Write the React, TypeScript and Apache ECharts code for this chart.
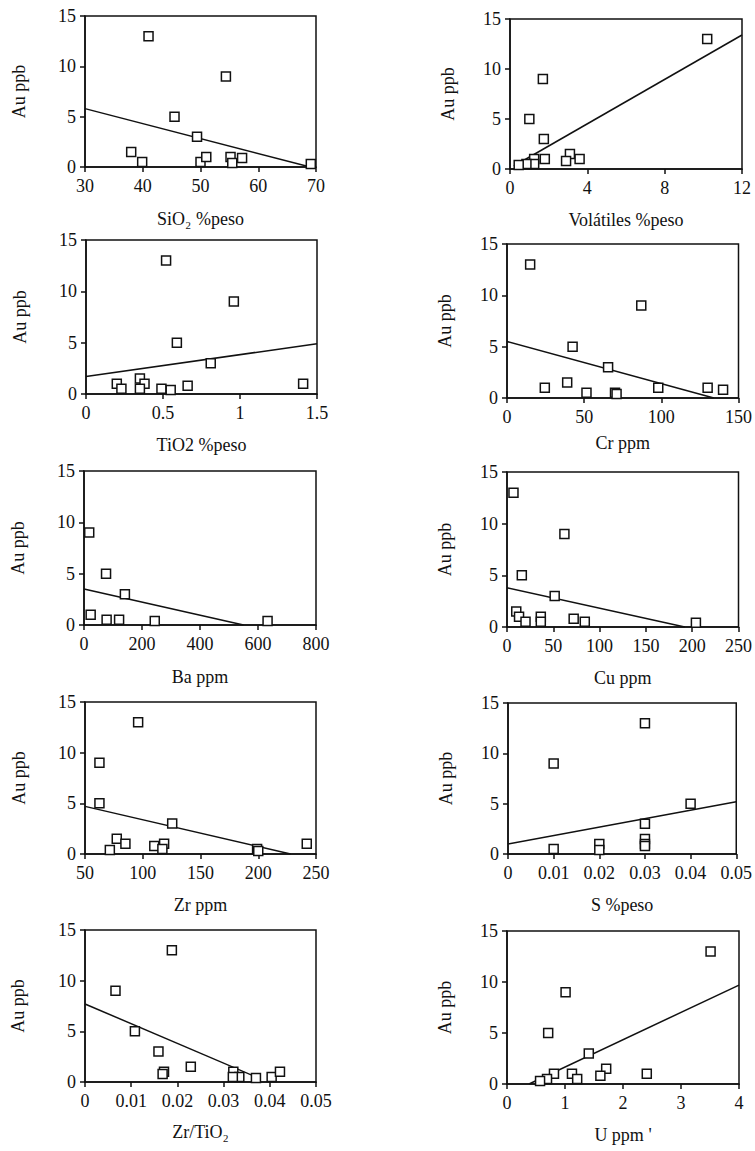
import React, { useEffect, useRef } from "react";
import * as echarts from "echarts";

// Au ppb (y) against each variable (x): [x, Au]
const sio2Points = [[41, 13], [54.4, 9], [45.5, 5], [49.4, 3], [38, 1.5], [39.9, 0.5], [50, 0.5], [51, 1], [55.2, 1], [55.5, 0.4], [57.2, 0.9], [69.1, 0.3]];
const sio2Trend = [[30, 5.8], [69, 0]];

const volPoints = [[10.2, 13], [1.7, 9], [1.0, 5], [1.75, 3], [3.1, 1.5], [3.6, 1], [2.9, 0.8], [1.8, 1], [1.25, 1], [1.25, 0.5], [0.85, 0.5], [0.45, 0.4]];
const volTrend = [[0.2, 0.3], [12, 13.4]];

const tio2Points = [[0.52, 13], [0.96, 9], [0.59, 5], [0.81, 3], [0.35, 1.5], [0.38, 1], [0.2, 1], [0.23, 0.5], [0.35, 0.5], [0.49, 0.5], [0.55, 0.4], [0.66, 0.8], [1.41, 1]];
const tio2Trend = [[0, 1.7], [1.5, 4.9]];

const crPoints = [[15, 13], [87, 9], [42.5, 5], [65.5, 3], [39, 1.5], [24.5, 1], [51.5, 0.5], [70, 0.5], [71, 0.4], [98, 1], [130, 1], [140, 0.8]];
const crTrend = [[0, 5.5], [134, 0]];

const baPoints = [[18, 9], [76, 5], [141, 3], [23, 1], [78, 0.5], [121, 0.5], [244, 0.4], [633, 0.4]];
const baTrend = [[0, 3.5], [550, 0]];

const cuPoints = [[7, 13], [62, 9], [16, 5], [51.5, 3], [10, 1.5], [13, 1], [20, 0.5], [36.5, 1], [36.5, 0.5], [72, 0.8], [84, 0.5], [204, 0.4]];
const cuTrend = [[0, 3.8], [192, 0]];

const zrPoints = [[96, 13], [62.5, 9], [62.5, 5], [125.5, 3], [77.5, 1.5], [85, 1], [71.5, 0.4], [110, 0.8], [118.5, 1], [117, 0.5], [199, 0.5], [200, 0.3], [242, 1]];
const zrTrend = [[50, 4.7], [228, 0]];

const sPoints = [[0.03, 13], [0.01, 9], [0.04, 5], [0.03, 3], [0.03, 1.5], [0.03, 1], [0.03, 0.8], [0.01, 0.5], [0.02, 1], [0.02, 0.4]];
const sTrend = [[0, 1.0], [0.05, 5.2]];

const zrTiPoints = [[0.0188, 13], [0.0066, 9], [0.0108, 5], [0.0159, 3], [0.0229, 1.5], [0.0171, 1], [0.0168, 0.8], [0.0321, 1], [0.0334, 0.5], [0.032, 0.5], [0.037, 0.4], [0.0404, 0.5], [0.0422, 1]];
const zrTiTrend = [[0, 7.7], [0.037, 0.5]];

const uPoints = [[3.51, 13], [1.01, 9], [0.71, 5], [1.41, 3], [1.71, 1.5], [1.61, 0.8], [0.81, 1], [1.12, 1], [1.21, 0.5], [2.41, 1], [0.69, 0.5], [0.57, 0.3]];
const uTrend = [[0.38, 0], [4, 9.7]];

const yName = "Au ppb";
const yMin = 0;
const yMax = 15;
const yStep = 5;

const panels = [
  { xName: "SiO₂ %peso", min: 30, max: 70, step: 10, points: sio2Points, trend: sio2Trend },
  { xName: "Volátiles %peso", min: 0, max: 12, step: 4, points: volPoints, trend: volTrend },
  { xName: "TiO2 %peso", min: 0, max: 1.5, step: 0.5, points: tio2Points, trend: tio2Trend },
  { xName: "Cr ppm", min: 0, max: 150, step: 50, points: crPoints, trend: crTrend },
  { xName: "Ba ppm", min: 0, max: 800, step: 200, points: baPoints, trend: baTrend },
  { xName: "Cu ppm", min: 0, max: 250, step: 50, points: cuPoints, trend: cuTrend },
  { xName: "Zr ppm", min: 50, max: 250, step: 50, points: zrPoints, trend: zrTrend },
  { xName: "S %peso", min: 0, max: 0.05, step: 0.01, points: sPoints, trend: sTrend },
  { xName: "Zr/TiO₂", min: 0, max: 0.05, step: 0.01, points: zrTiPoints, trend: zrTiTrend },
  { xName: "U ppm '", min: 0, max: 4, step: 1, points: uPoints, trend: uTrend },
];

// plot-area layout in pixels (left, top, width, height) and name gaps
const layout = [
  { left: 85, top: 16, width: 231, height: 151, xGap: 43, yGap: 57 },
  { left: 510, top: 19, width: 232, height: 150, xGap: 42, yGap: 53 },
  { left: 86, top: 240, width: 231, height: 154, xGap: 42, yGap: 57 },
  { left: 507, top: 244, width: 232, height: 154, xGap: 36, yGap: 53 },
  { left: 84, top: 471, width: 232, height: 154, xGap: 43, yGap: 57 },
  { left: 507, top: 472, width: 233, height: 155, xGap: 42, yGap: 53 },
  { left: 85, top: 702, width: 231, height: 152, xGap: 42, yGap: 57 },
  { left: 508, top: 703, width: 231, height: 151, xGap: 42, yGap: 53 },
  { left: 85, top: 930, width: 231, height: 152, xGap: 41, yGap: 58 },
  { left: 507, top: 931, width: 232, height: 153, xGap: 42, yGap: 53 },
];

const FONT = "'Liberation Serif', 'Times New Roman', serif";
const INK = "#111";
const FS = 18;

export default function App() {
  const ref = useRef<HTMLDivElement>(null);

  useEffect(() => {
    if (!ref.current) return;
    const chart = echarts.init(ref.current, undefined, { renderer: "svg" });

    const grid = layout.map((l) => ({
      left: l.left,
      top: l.top,
      width: l.width,
      height: l.height,
      show: true,
      borderColor: INK,
      borderWidth: 1.5,
      backgroundColor: "transparent",
      containLabel: false,
    }));

    const axisCommon = {
      type: "value" as const,
      axisLine: { show: true, onZero: false, lineStyle: { color: INK, width: 1.5 } },
      axisTick: { show: true, inside: false, length: 5, lineStyle: { color: INK, width: 1.5 } },
      splitLine: { show: false },
      nameLocation: "middle" as const,
      nameTextStyle: { color: INK, fontFamily: FONT, fontSize: FS },
    };

    const xAxis = panels.map((p, i) => ({
      ...axisCommon,
      gridIndex: i,
      min: p.min,
      max: p.max,
      interval: p.step,
      name: p.xName,
      nameGap: layout[i].xGap,
      axisLabel: {
        color: INK,
        fontFamily: FONT,
        fontSize: FS,
        margin: 10,
        formatter: (v: number) => String(parseFloat(v.toFixed(4))),
      },
    }));

    const yAxis = panels.map((_, i) => ({
      ...axisCommon,
      gridIndex: i,
      min: yMin,
      max: yMax,
      interval: yStep,
      name: yName,
      nameGap: layout[i].yGap,
      axisLabel: { color: INK, fontFamily: FONT, fontSize: FS, margin: 9 },
    }));

    const series: any[] = [];
    panels.forEach((p, i) => {
      series.push({
        type: "line",
        xAxisIndex: i,
        yAxisIndex: i,
        data: p.trend,
        symbol: "none",
        showSymbol: false,
        lineStyle: { color: INK, width: 1.5 },
        z: 2,
        silent: true,
      });
      series.push({
        type: "scatter",
        xAxisIndex: i,
        yAxisIndex: i,
        data: p.points,
        symbol: "rect",
        symbolSize: 9,
        itemStyle: { color: "#fff", borderColor: INK, borderWidth: 1.5, opacity: 1 },
        z: 3,
        silent: true,
      });
    });

    chart.setOption({
      animation: false,
      backgroundColor: "#fff",
      textStyle: { fontFamily: FONT },
      grid,
      xAxis,
      yAxis,
      series,
    });

    return () => chart.dispose();
  }, []);

  return (
    <div
      ref={ref}
      style={{ position: "absolute", left: 0, top: 0, width: 755, height: 1151, background: "#fff" }}
    />
  );
}
